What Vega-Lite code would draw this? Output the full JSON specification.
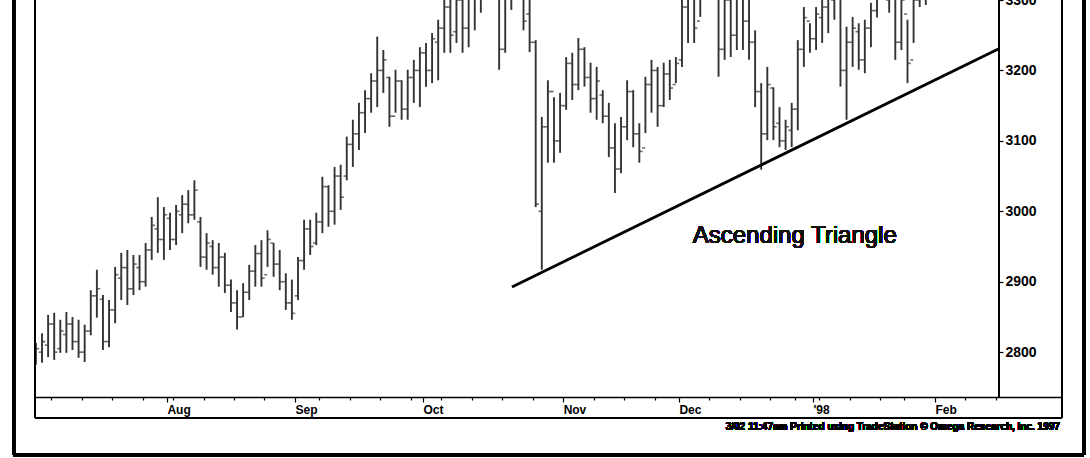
{
"$schema": "https://vega.github.io/schema/vega-lite/v6.json",
"width": 1027, "height": 418,
"autosize": {"type": "none"},
"padding": {"left": 35, "top": 0, "right": 28, "bottom": 40},
"background": "white",
"config": {"view": {"stroke": null}, "font": "Liberation Sans"},
"resolve": {"axis": {"x": "independent"}},
"data": {"values": [
{"i":0,"o":2790,"h":2813,"l":2782,"c":2805},
{"i":1,"o":2800,"h":2827,"l":2785,"c":2815},
{"i":2,"o":2810,"h":2853,"l":2793,"c":2840},
{"i":3,"o":2840,"h":2856,"l":2789,"c":2800},
{"i":4,"o":2805,"h":2846,"l":2799,"c":2830},
{"i":5,"o":2825,"h":2857,"l":2799,"c":2840},
{"i":6,"o":2840,"h":2850,"l":2803,"c":2815},
{"i":7,"o":2815,"h":2846,"l":2792,"c":2800},
{"i":8,"o":2800,"h":2839,"l":2786,"c":2830},
{"i":9,"o":2830,"h":2888,"l":2824,"c":2880},
{"i":10,"o":2880,"h":2917,"l":2849,"c":2890},
{"i":11,"o":2875,"h":2881,"l":2803,"c":2815},
{"i":12,"o":2815,"h":2874,"l":2807,"c":2860},
{"i":13,"o":2860,"h":2921,"l":2841,"c":2910},
{"i":14,"o":2905,"h":2941,"l":2874,"c":2920},
{"i":15,"o":2920,"h":2945,"l":2867,"c":2890},
{"i":16,"o":2890,"h":2938,"l":2881,"c":2925},
{"i":17,"o":2920,"h":2938,"l":2888,"c":2900},
{"i":18,"o":2900,"h":2955,"l":2893,"c":2945},
{"i":19,"o":2945,"h":2992,"l":2931,"c":2980},
{"i":20,"o":2975,"h":3020,"l":2941,"c":2960},
{"i":21,"o":2960,"h":3006,"l":2931,"c":2995},
{"i":22,"o":2990,"h":2998,"l":2945,"c":2960},
{"i":23,"o":2960,"h":3009,"l":2952,"c":3000},
{"i":24,"o":2995,"h":3023,"l":2969,"c":3010},
{"i":25,"o":3010,"h":3030,"l":2983,"c":2995},
{"i":26,"o":2995,"h":3044,"l":2988,"c":3030},
{"i":27,"o":2985,"h":2992,"l":2921,"c":2935},
{"i":28,"o":2935,"h":2969,"l":2917,"c":2955},
{"i":29,"o":2950,"h":2959,"l":2910,"c":2920},
{"i":30,"o":2920,"h":2955,"l":2893,"c":2935},
{"i":31,"o":2935,"h":2941,"l":2884,"c":2895},
{"i":32,"o":2895,"h":2903,"l":2857,"c":2870},
{"i":33,"o":2870,"h":2888,"l":2832,"c":2850},
{"i":34,"o":2850,"h":2898,"l":2850,"c":2885},
{"i":35,"o":2885,"h":2924,"l":2874,"c":2915},
{"i":36,"o":2915,"h":2952,"l":2893,"c":2940},
{"i":37,"o":2940,"h":2959,"l":2893,"c":2905},
{"i":38,"o":2910,"h":2973,"l":2921,"c":2960},
{"i":39,"o":2955,"h":2955,"l":2907,"c":2925},
{"i":40,"o":2925,"h":2945,"l":2888,"c":2900},
{"i":41,"o":2900,"h":2912,"l":2860,"c":2870},
{"i":42,"o":2870,"h":2903,"l":2846,"c":2855},
{"i":43,"o":2880,"h":2935,"l":2874,"c":2930},
{"i":44,"o":2930,"h":2988,"l":2917,"c":2975},
{"i":45,"o":2975,"h":2988,"l":2938,"c":2950},
{"i":46,"o":2955,"h":2998,"l":2952,"c":2985},
{"i":47,"o":2985,"h":3049,"l":2969,"c":3035},
{"i":48,"o":3035,"h":3037,"l":2978,"c":3000},
{"i":49,"o":3000,"h":3063,"l":2981,"c":3050},
{"i":50,"o":3050,"h":3066,"l":3002,"c":3020},
{"i":51,"o":3050,"h":3106,"l":3044,"c":3095},
{"i":52,"o":3095,"h":3130,"l":3063,"c":3110},
{"i":53,"o":3110,"h":3154,"l":3087,"c":3140},
{"i":54,"o":3140,"h":3172,"l":3111,"c":3160},
{"i":55,"o":3160,"h":3196,"l":3140,"c":3185},
{"i":56,"o":3185,"h":3248,"l":3148,"c":3200},
{"i":57,"o":3200,"h":3229,"l":3168,"c":3215},
{"i":58,"o":3190,"h":3191,"l":3120,"c":3135},
{"i":59,"o":3135,"h":3201,"l":3140,"c":3185},
{"i":60,"o":3185,"h":3186,"l":3130,"c":3145},
{"i":61,"o":3145,"h":3201,"l":3130,"c":3190},
{"i":62,"o":3190,"h":3215,"l":3154,"c":3200},
{"i":63,"o":3200,"h":3233,"l":3148,"c":3225},
{"i":64,"o":3225,"h":3239,"l":3177,"c":3200},
{"i":65,"o":3200,"h":3253,"l":3182,"c":3245},
{"i":66,"o":3240,"h":3272,"l":3186,"c":3260},
{"i":67,"o":3260,"h":3330,"l":3225,"c":3290},
{"i":68,"o":3290,"h":3335,"l":3225,"c":3250},
{"i":69,"o":3255,"h":3345,"l":3239,"c":3300},
{"i":70,"o":3300,"h":3340,"l":3225,"c":3260},
{"i":71,"o":3260,"h":3350,"l":3233,"c":3310},
{"i":72,"o":3310,"h":3360,"l":3257,"c":3330},
{"i":73,"o":3330,"h":3370,"l":3282,"c":3350},
{"i":74,"o":3345,"h":3380,"l":3310,"c":3365},
{"i":75,"o":3365,"h":3385,"l":3315,"c":3330},
{"i":76,"o":3330,"h":3350,"l":3201,"c":3230},
{"i":77,"o":3230,"h":3330,"l":3225,"c":3310},
{"i":78,"o":3310,"h":3345,"l":3286,"c":3325},
{"i":79,"o":3325,"h":3360,"l":3305,"c":3340},
{"i":80,"o":3340,"h":3345,"l":3257,"c":3270},
{"i":81,"o":3280,"h":3320,"l":3226,"c":3240},
{"i":82,"o":3240,"h":3243,"l":3006,"c":3010},
{"i":83,"o":3000,"h":3134,"l":2917,"c":3120},
{"i":84,"o":3120,"h":3186,"l":3069,"c":3170},
{"i":85,"o":3170,"h":3162,"l":3069,"c":3100},
{"i":86,"o":3100,"h":3168,"l":3083,"c":3150},
{"i":87,"o":3150,"h":3219,"l":3144,"c":3210},
{"i":88,"o":3210,"h":3225,"l":3158,"c":3180},
{"i":89,"o":3180,"h":3246,"l":3172,"c":3230},
{"i":90,"o":3230,"h":3233,"l":3177,"c":3190},
{"i":91,"o":3190,"h":3211,"l":3140,"c":3160},
{"i":92,"o":3160,"h":3205,"l":3130,"c":3185},
{"i":93,"o":3165,"h":3172,"l":3125,"c":3135},
{"i":94,"o":3135,"h":3154,"l":3077,"c":3090},
{"i":95,"o":3090,"h":3125,"l":3026,"c":3060},
{"i":96,"o":3060,"h":3134,"l":3054,"c":3120},
{"i":97,"o":3120,"h":3186,"l":3101,"c":3170},
{"i":98,"o":3170,"h":3172,"l":3091,"c":3110},
{"i":99,"o":3110,"h":3125,"l":3069,"c":3085},
{"i":100,"o":3090,"h":3191,"l":3111,"c":3180},
{"i":101,"o":3180,"h":3215,"l":3140,"c":3200},
{"i":102,"o":3200,"h":3205,"l":3120,"c":3150},
{"i":103,"o":3150,"h":3211,"l":3148,"c":3195},
{"i":104,"o":3195,"h":3215,"l":3158,"c":3175},
{"i":105,"o":3180,"h":3219,"l":3182,"c":3210},
{"i":106,"o":3215,"h":3315,"l":3205,"c":3290},
{"i":107,"o":3290,"h":3335,"l":3239,"c":3310},
{"i":108,"o":3305,"h":3330,"l":3239,"c":3260},
{"i":109,"o":3270,"h":3345,"l":3276,"c":3330},
{"i":110,"o":3320,"h":3360,"l":3305,"c":3350},
{"i":111,"o":3350,"h":3370,"l":3310,"c":3330},
{"i":112,"o":3330,"h":3340,"l":3191,"c":3230},
{"i":113,"o":3230,"h":3330,"l":3215,"c":3300},
{"i":114,"o":3300,"h":3325,"l":3219,"c":3250},
{"i":115,"o":3250,"h":3335,"l":3229,"c":3310},
{"i":116,"o":3310,"h":3330,"l":3229,"c":3270},
{"i":117,"o":3270,"h":3320,"l":3215,"c":3240},
{"i":118,"o":3240,"h":3257,"l":3148,"c":3170},
{"i":119,"o":3170,"h":3182,"l":3059,"c":3110},
{"i":120,"o":3110,"h":3205,"l":3101,"c":3180},
{"i":121,"o":3175,"h":3176,"l":3101,"c":3120},
{"i":122,"o":3125,"h":3148,"l":3091,"c":3100},
{"i":123,"o":3100,"h":3130,"l":3087,"c":3120},
{"i":124,"o":3115,"h":3154,"l":3091,"c":3145},
{"i":125,"o":3145,"h":3243,"l":3115,"c":3230},
{"i":126,"o":3230,"h":3290,"l":3205,"c":3275},
{"i":127,"o":3270,"h":3267,"l":3225,"c":3245},
{"i":128,"o":3245,"h":3290,"l":3229,"c":3280},
{"i":129,"o":3275,"h":3310,"l":3239,"c":3290},
{"i":130,"o":3290,"h":3320,"l":3253,"c":3305},
{"i":131,"o":3300,"h":3335,"l":3272,"c":3320},
{"i":132,"o":3315,"h":3320,"l":3177,"c":3200},
{"i":133,"o":3200,"h":3262,"l":3130,"c":3240},
{"i":134,"o":3240,"h":3276,"l":3205,"c":3260},
{"i":135,"o":3255,"h":3267,"l":3201,"c":3215},
{"i":136,"o":3215,"h":3272,"l":3196,"c":3260},
{"i":137,"o":3260,"h":3296,"l":3233,"c":3285},
{"i":138,"o":3285,"h":3330,"l":3275,"c":3310},
{"i":139,"o":3310,"h":3345,"l":3305,"c":3330},
{"i":140,"o":3300,"h":3340,"l":3282,"c":3320},
{"i":141,"o":3320,"h":3330,"l":3215,"c":3240},
{"i":142,"o":3240,"h":3320,"l":3229,"c":3300},
{"i":143,"o":3280,"h":3272,"l":3182,"c":3210},
{"i":144,"o":3215,"h":3320,"l":3239,"c":3300},
{"i":145,"o":3300,"h":3340,"l":3290,"c":3325},
{"i":146,"o":3320,"h":3345,"l":3293,"c":3335},
{"i":147,"o":3330,"h":3350,"l":3300,"c":3340}
]},
"layer": [
{"mark": {"type": "rule", "strokeWidth": 1.9, "color": "#333333", "clip": true},
 "encoding": {
  "x": {"field": "i", "type": "quantitative",
        "scale": {"domain": [-0.15, 168.35], "nice": false, "zero": false},
        "axis": {"orient": "bottom", "offset": -21, "title": null, "grid": false,
                 "values": [21.5, 42.5, 63.5, 86.5, 105.5, 127.5, 147.5],
                 "labelExpr": "datum.value == 21.5 ? 'Aug' : datum.value == 42.5 ? 'Sep' : datum.value == 63.5 ? 'Oct' : datum.value == 86.5 ? 'Nov' : datum.value == 105.5 ? 'Dec' : datum.value == 127.5 ? \"'98\" : 'Feb'",
                 "labelAlign": "left", "labelBaseline": "top", "labelPadding": 2, "labelFlush": false, "labelOverlap": false,
                 "labelFontSize": 12, "labelFontWeight": "bold", "labelColor": "black",
                 "tickSize": 5, "tickColor": "black", "tickWidth": 1.2,
                 "domainColor": "black", "domainWidth": 1.6}},
  "y": {"field": "l", "type": "quantitative",
        "scale": {"domain": [2706.5, 3300], "nice": false, "zero": false},
        "axis": {"orient": "right", "offset": -63, "title": null, "grid": false, "domain": false,
                 "values": [2800, 2900, 3000, 3100, 3200, 3300], "format": "d",
                 "labelFontSize": 14, "labelFontWeight": "bold", "labelColor": "black", "labelPadding": 2,
                 "tickSize": 4, "tickColor": "black", "tickWidth": 1.2}},
  "y2": {"field": "h"}
 }},
{"mark": {"type": "tick", "orient": "horizontal", "size": 3, "thickness": 1.6, "xOffset": -1.8, "color": "#333333", "clip": true},
 "encoding": {"x": {"field": "i", "type": "quantitative",
        "axis": {"orient": "bottom", "offset": -21, "title": null, "grid": false, "labels": false, "domain": false,
                 "values": [2.5,7.5,12.5,17.5,22.5,27.5,32.5,37.5,46.5,51.5,56.5,61.5,66.5,71.5,76.5,81.5,91.5,96.5,101.5,110.5,115.5,120.5,124.5,128.5,133.5,138.5,142.5,152.5,157.5],
                 "tickSize": 3, "tickColor": "black", "tickWidth": 1.2}},
   "y": {"field": "o", "type": "quantitative"}}},
{"mark": {"type": "tick", "orient": "horizontal", "size": 3, "thickness": 1.6, "xOffset": 1.8, "color": "#333333", "clip": true},
 "encoding": {"x": {"field": "i", "type": "quantitative", "axis": null}, "y": {"field": "c", "type": "quantitative"}}},
{"data": {"values": [{"i": 78.1, "v": 2892.5}, {"i": 157.9, "v": 3230.4}]},
 "mark": {"type": "line", "strokeWidth": 2.8, "color": "black"},
 "encoding": {"x": {"field": "i", "type": "quantitative", "axis": null}, "y": {"field": "v", "type": "quantitative"}}},
{"mark": {"type": "text", "text": "Ascending Triangle", "fontSize": 24, "align": "center", "baseline": "alphabetic", "color": "#111"},
 "encoding": {"x": {"datum": 124.5, "axis": null}, "y": {"datum": 2955}}},
{"mark": {"type": "text", "text": "3/02 11:47am Printed using TradeStation © Omega Research, Inc. 1997", "fontSize": 10, "fontWeight": "bold", "align": "right", "baseline": "alphabetic", "color": "black"},
 "encoding": {"x": {"datum": 168.0, "axis": null}, "y": {"datum": 2689.5}}},
{"mark": {"type": "rule", "strokeWidth": 1.5, "color": "black"},
 "encoding": {"x": {"datum": 158.0, "axis": null}, "y": {"datum": 3310}, "y2": {"datum": 2736.3}}},
{"mark": {"type": "rule", "strokeWidth": 2, "color": "black"},
 "encoding": {"x": {"datum": -0.15, "axis": null}, "y": {"datum": 3310}, "y2": {"datum": 2706.5}}},
{"mark": {"type": "rule", "strokeWidth": 2, "color": "black"},
 "encoding": {"x": {"datum": 168.35, "axis": null}, "y": {"datum": 3310}, "y2": {"datum": 2706.5}}},
{"mark": {"type": "rule", "strokeWidth": 2, "color": "black"},
 "encoding": {"x": {"datum": -0.15, "axis": null}, "x2": {"datum": 168.35}, "y": {"datum": 2706.5}}},
{"mark": {"type": "rule", "strokeWidth": 3, "color": "black"},
 "encoding": {"x": {"datum": -3.675, "axis": null}, "y": {"datum": 3310}, "y2": {"datum": 2654}}},
{"mark": {"type": "rule", "strokeWidth": 3, "color": "black"},
 "encoding": {"x": {"datum": 171.96, "axis": null}, "y": {"datum": 3310}, "y2": {"datum": 2654}}},
{"mark": {"type": "rule", "strokeWidth": 3, "color": "black"},
 "encoding": {"x": {"datum": -3.675, "axis": null}, "x2": {"datum": 171.96}, "y": {"datum": 2654}}}
]
}
